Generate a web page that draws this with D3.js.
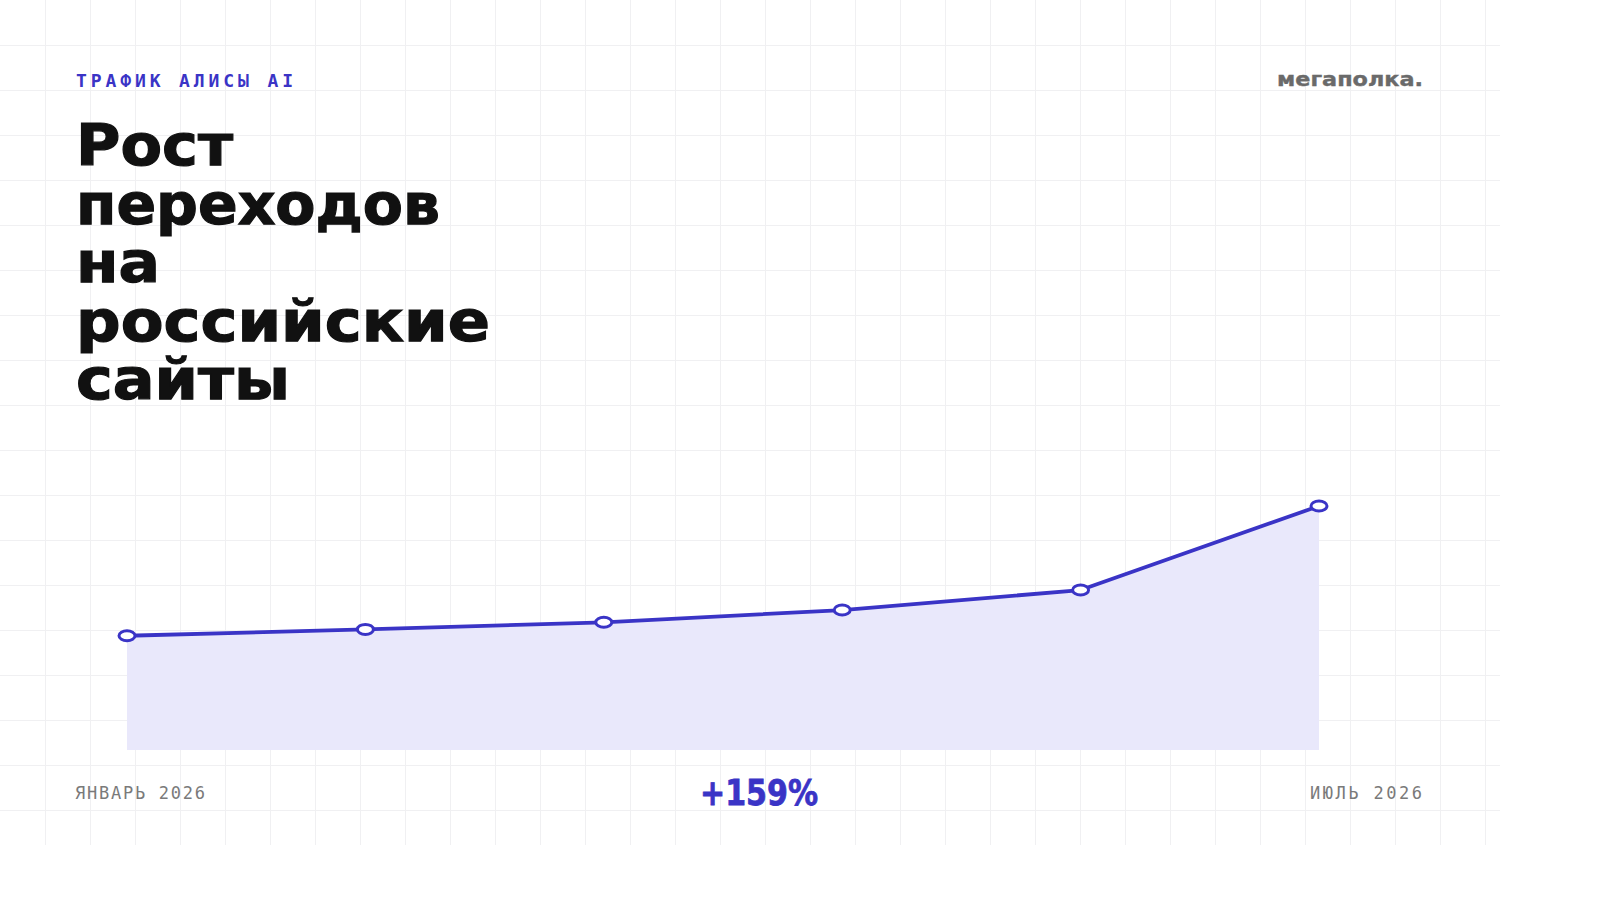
<!DOCTYPE html>
<html>
<head>
<meta charset="utf-8">
<script src="https://cdn.jsdelivr.net/npm/d3@7"></script>
<style>
  html, body { margin: 0; padding: 0; background: #ffffff; }
  svg { display: block; }
</style>
</head>
<body>
<svg id="chart" width="1600" height="900"></svg>
<script>
// ---- data ----
const categories = ["Январь", "Февраль", "Март", "Апрель", "Май", "Июнь"];
const values = [100, 107.8, 116.5, 131.5, 156, 259];
const tickLabels = ["ЯНВАРЬ 2026", "ИЮЛЬ 2026"];
const kicker = "ТРАФИК АЛИСЫ AI";
const titleLines = ["Рост", "переходов", "на", "российские", "сайты"];
const brand = "мегаполка.";
const growthLabel = "+159%";

// ---- layout ----
const W = 1600, H = 900;
const svg = d3.select("#chart");
const BLUE = "#3a34c6";

// grid
const gridW = 1500, gridH = 845, cell = 45;
const grid = svg.append("g").attr("stroke", "#f0f0f2").attr("stroke-width", 1);
d3.range(cell, gridW, cell).forEach(x => {
  grid.append("line").attr("x1", x + 0.5).attr("x2", x + 0.5).attr("y1", 0).attr("y2", gridH);
});
d3.range(cell, gridH, cell).forEach(y => {
  grid.append("line").attr("x1", 0).attr("x2", gridW).attr("y1", y + 0.5).attr("y2", y + 0.5);
});

// scales
const x = d3.scalePoint().domain(categories).range([127, 1319]);
const y = d3.scaleLinear().domain([-40, 259]).range([750, 506]);
const data = categories.map((c, i) => ({ c, v: values[i] }));

// area
const area = d3.area().x(d => x(d.c)).y0(y(-40)).y1(d => y(d.v));
svg.append("path").datum(data).attr("d", area).attr("fill", "#e9e8fb");

// line
const line = d3.line().x(d => x(d.c)).y(d => y(d.v));
svg.append("path").datum(data).attr("d", line)
  .attr("fill", "none").attr("stroke", BLUE).attr("stroke-width", 3.8)
  .attr("stroke-linejoin", "round").attr("stroke-linecap", "round");

// markers
svg.append("g").selectAll("ellipse").data(data).join("ellipse")
  .attr("cx", d => x(d.c)).attr("cy", d => y(d.v))
  .attr("rx", 8).attr("ry", 5)
  .attr("fill", "#ffffff").attr("stroke", BLUE).attr("stroke-width", 3);

// kicker
svg.append("text").text(kicker)
  .attr("x", 76).attr("y", 87)
  .attr("font-family", "DejaVu Sans Mono").attr("font-weight", "bold")
  .attr("font-size", 18).attr("fill", BLUE)
  .attr("textLength", 217).attr("lengthAdjust", "spacing");

// brand
svg.append("text").text(brand)
  .attr("x", 1277).attr("y", 86)
  .attr("font-family", "DejaVu Sans").attr("font-weight", "bold")
  .attr("font-size", 20).attr("fill", "#6a6a6a")
  .attr("stroke", "#6a6a6a").attr("stroke-width", 0.4)
  .attr("textLength", 146).attr("lengthAdjust", "spacingAndGlyphs");

// title (one text block, one tspan per line)
const titleWidths = [157, 364, 84, 414, 214];
const title = svg.append("text")
  .attr("font-family", "DejaVu Sans").attr("font-weight", "bold")
  .attr("font-size", 57).attr("fill", "#111111")
  .attr("stroke", "#111111").attr("stroke-width", 1.2);
titleLines.forEach((t, i) => {
  title.append("tspan").text(t)
    .attr("x", 76).attr("y", 165 + 58.5 * i)
    .attr("textLength", titleWidths[i]).attr("lengthAdjust", "spacingAndGlyphs");
});

// bottom labels
svg.append("text").text(tickLabels[0])
  .attr("x", 75).attr("y", 799)
  .attr("font-family", "DejaVu Sans Mono").attr("font-size", 17).attr("fill", "#7a7a7a")
  .attr("textLength", 130).attr("lengthAdjust", "spacing");
svg.append("text").text(tickLabels[1])
  .attr("x", 1310).attr("y", 799)
  .attr("font-family", "DejaVu Sans Mono").attr("font-size", 17).attr("fill", "#7a7a7a")
  .attr("textLength", 112).attr("lengthAdjust", "spacing");

// growth label
svg.append("text").text(growthLabel)
  .attr("x", 700).attr("y", 805)
  .attr("font-family", "DejaVu Sans").attr("font-weight", "bold")
  .attr("font-size", 36).attr("fill", BLUE)
  .attr("stroke", BLUE).attr("stroke-width", 0.8)
  .attr("textLength", 118).attr("lengthAdjust", "spacingAndGlyphs");
</script>
</body>
</html>
